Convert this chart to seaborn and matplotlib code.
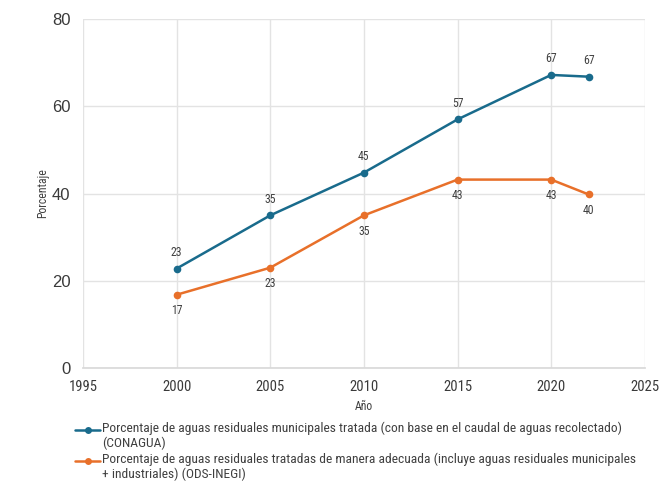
import matplotlib
matplotlib.use("Agg")
import matplotlib.pyplot as plt
from matplotlib.lines import Line2D
import seaborn as sns
import pandas as pd

years = [2000, 2005, 2010, 2015, 2020, 2022]
conagua = [22.8, 35.0, 44.8, 57.0, 67.2, 66.8]
inegi = [16.8, 23.0, 35.0, 43.2, 43.2, 39.8]
series_names = [
    "Porcentaje de aguas residuales municipales tratada (con base en el caudal de aguas recolectado)\n(CONAGUA)",
    "Porcentaje de aguas residuales tratadas de manera adecuada (incluye aguas residuales municipales\n+ industriales) (ODS-INEGI)",
]
colors = ["#196B8C", "#E8702A"]
x_ticks = [1995, 2000, 2005, 2010, 2015, 2020, 2025]
y_ticks = [0, 20, 40, 60, 80]

df = pd.DataFrame({
    "Año": years * 2,
    "Porcentaje": conagua + inegi,
    "serie": [series_names[0]] * len(years) + [series_names[1]] * len(years),
})

sns.set_theme(style="white")
plt.rcParams["font.family"] = ["Roboto Condensed", "DejaVu Sans"]

fig = plt.figure(figsize=(6.62, 4.9), dpi=100)
ax = fig.add_axes([0.1254, 0.249, 0.8486, 0.712])

sns.lineplot(data=df, x="Año", y="Porcentaje", hue="serie", palette=colors,
             marker="o", markersize=5.5, markeredgewidth=0, linewidth=1.8,
             ax=ax, legend=False)

ax.set_xlim(1995, 2025)
ax.set_ylim(0, 80)
ax.set_xticks(x_ticks)
ax.set_yticks(y_ticks)
ax.grid(True, color="#E3E3E3", linewidth=1.0)
ax.set_axisbelow(True)
for s in ["top", "right", "left"]:
    ax.spines[s].set_visible(False)
ax.spines["bottom"].set_color("#D9D9D9")
ax.tick_params(axis="both", length=0, colors="#3A3A3A")
for lab in ax.get_yticklabels():
    lab.set_fontsize(12)
    lab.set_fontfamily(["Liberation Sans", "DejaVu Sans"])
for lab in ax.get_xticklabels():
    lab.set_fontsize(10.5)
ax.tick_params(axis="y", pad=9)
ax.tick_params(axis="x", pad=9)
ax.set_xlabel("Año", fontsize=8.5, color="#404040", labelpad=4)
ax.set_ylabel("Porcentaje", fontsize=8.5, color="#404040", labelpad=2)

for x, y in zip(years, conagua):
    ax.annotate(f"{y:.0f}", (x, y), xytext=(0, 7), textcoords="offset points",
                ha="center", va="bottom", fontsize=8.5, color="#404040")
for x, y in zip(years, inegi):
    ax.annotate(f"{y:.0f}", (x, y), xytext=(0, -7), textcoords="offset points",
                ha="center", va="top", fontsize=8.5, color="#404040")

# legend below
leg_y = [1 - 430 / 490, 1 - 461 / 490]
for name, c, yy in zip(series_names, colors, leg_y):
    fig.add_artist(Line2D([75 / 662, 100 / 662], [yy, yy], color=c, linewidth=1.8,
                          transform=fig.transFigure))
    fig.add_artist(Line2D([87.5 / 662], [yy], color=c, marker="o", markersize=5,
                          markeredgewidth=0, transform=fig.transFigure))
    fig.text(102 / 662, yy + 8.5 / 490, name, ha="left", va="top", fontsize=9.7,
             color="#404040", linespacing=1.18)

fig.savefig("out.png", dpi=100)
